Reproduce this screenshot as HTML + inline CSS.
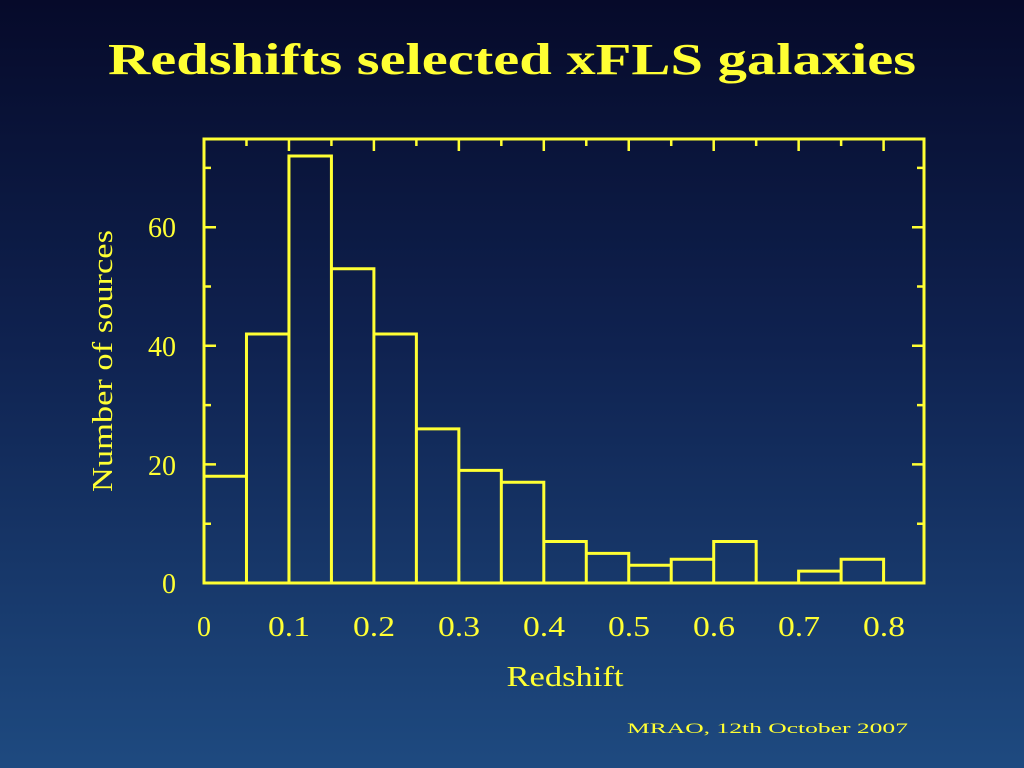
<!DOCTYPE html>
<html><head><meta charset="utf-8"><style>
html,body{margin:0;padding:0;width:1024px;height:768px;overflow:hidden}
body{background:linear-gradient(to bottom,#060a2a 0%,#0f2250 45%,#1e4a80 100%)}
</style></head><body>
<svg width="1024" height="768" xmlns="http://www.w3.org/2000/svg" font-family="'Liberation Serif',serif" fill="#ffff33">
<text x="108" y="74" font-size="44" font-weight="bold" textLength="808" lengthAdjust="spacingAndGlyphs">Redshifts selected xFLS galaxies</text>
<g stroke="#ffff33" stroke-width="3" fill="none">
<rect x="204" y="139" width="720" height="444"/>
<path id="bars" d=""/>
<path id="ticks" d="" stroke-width="2.5"/>
</g>
<g font-size="28" text-anchor="middle">
<text x="204" y="636">0</text>
<text x="289" y="636" textLength="42" lengthAdjust="spacingAndGlyphs">0.1</text>
<text x="374" y="636" textLength="42" lengthAdjust="spacingAndGlyphs">0.2</text>
<text x="459" y="636" textLength="42" lengthAdjust="spacingAndGlyphs">0.3</text>
<text x="544" y="636" textLength="42" lengthAdjust="spacingAndGlyphs">0.4</text>
<text x="629" y="636" textLength="42" lengthAdjust="spacingAndGlyphs">0.5</text>
<text x="714" y="636" textLength="42" lengthAdjust="spacingAndGlyphs">0.6</text>
<text x="799" y="636" textLength="42" lengthAdjust="spacingAndGlyphs">0.7</text>
<text x="884" y="636" textLength="42" lengthAdjust="spacingAndGlyphs">0.8</text>
<text x="565" y="686" textLength="117" lengthAdjust="spacingAndGlyphs">Redshift</text>
</g>
<g font-size="28" text-anchor="end">
<text x="176" y="593">0</text><text x="176" y="475">20</text><text x="176" y="356">40</text><text x="176" y="237">60</text>
</g>
<text transform="translate(112,361) rotate(-90)" font-size="28" text-anchor="middle" textLength="262" lengthAdjust="spacingAndGlyphs">Number of sources</text>
<text x="627" y="733" font-size="15" textLength="281" lengthAdjust="spacingAndGlyphs">MRAO, 12th October 2007</text>
<script>
var v=[18,42,72,53,42,26,19,17,7,5,3,4,7,0,2,4,0];
var X=function(z){return 204+z*849.5},Y=function(n){return 583-n*5.93};
var d="";
v.forEach(function(n,i){if(n>0){var a=X(i*0.05),b=X((i+1)*0.05);d+="M"+a+" 583V"+Y(n)+"H"+b+"V583";}});
document.getElementById("bars").setAttribute("d",d);
var t="";
for(var i=1;i<17;i++){var x=X(i*0.05),l=(i%2==0)?12:7;t+="M"+x+" 583v-"+l+"M"+x+" 139v"+l;}
for(var n=10;n<75;n+=10){var y=Y(n),l=(n%20==0)?12:7;t+="M204 "+y+"h"+l+"M924 "+y+"h-"+l;}
document.getElementById("ticks").setAttribute("d",t);
</script>
</svg>
</body></html>
